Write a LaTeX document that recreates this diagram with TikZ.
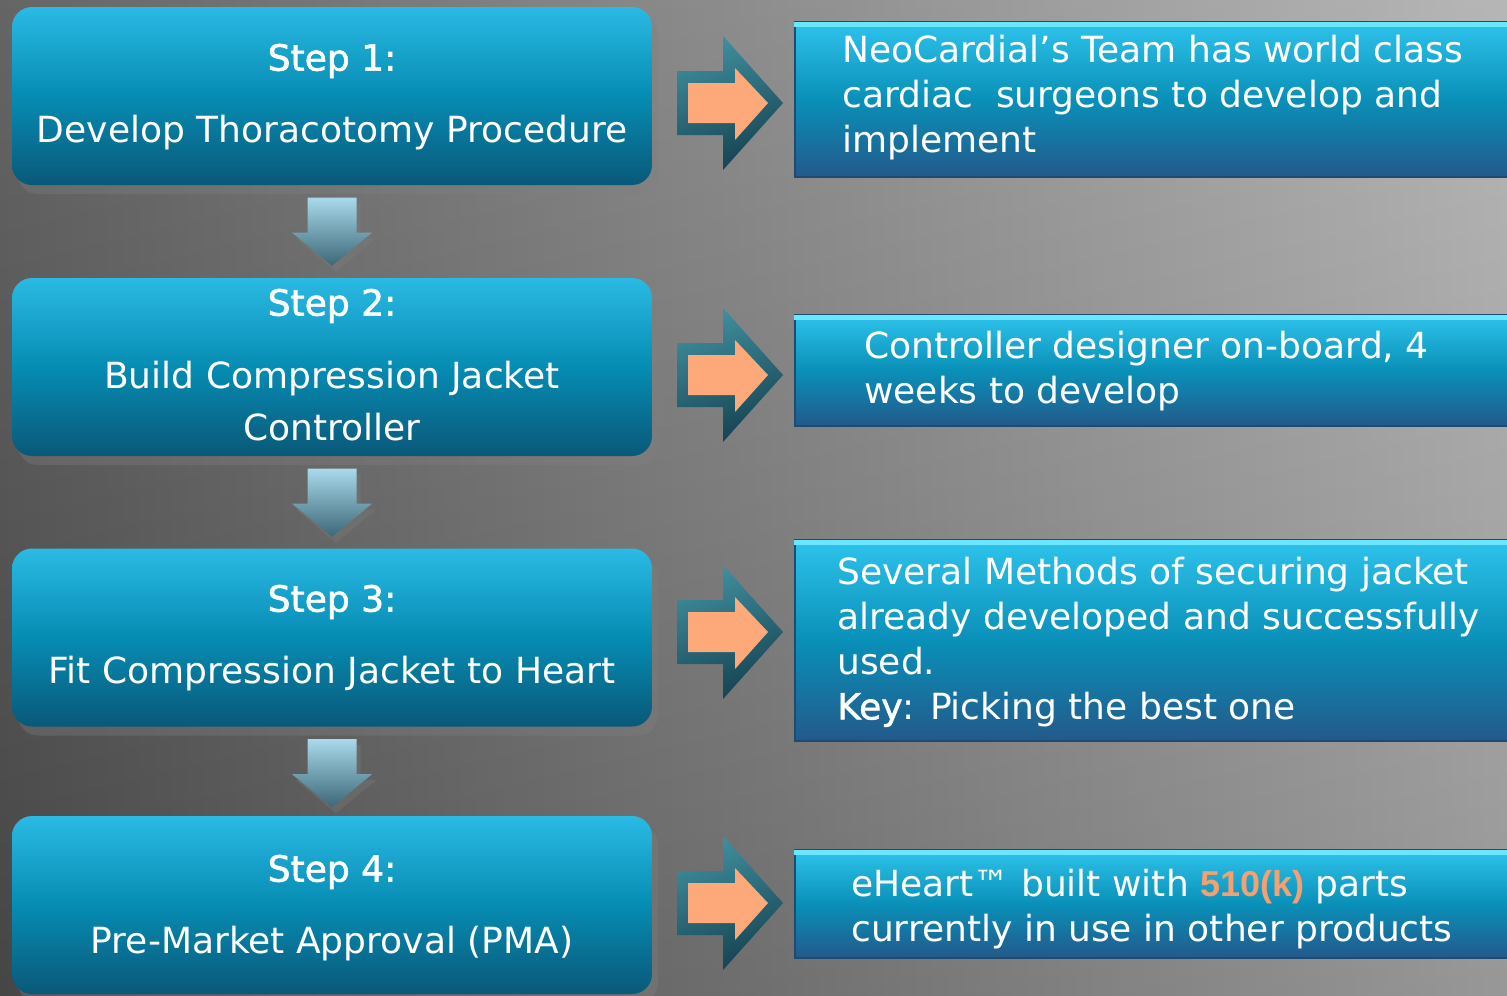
\documentclass[tikz,border=0pt]{standalone}
\usepackage{fontspec}
\setmainfont{DejaVu Sans}
\newfontfamily\semibold[FakeBold=1.6]{DejaVu Sans}
\newfontfamily\numfont{Liberation Sans}
\usetikzlibrary{calc,shadows}
\definecolor{bgleft}{HTML}{505050}
\definecolor{bgright}{HTML}{ADADAD}
\definecolor{lboxtop}{HTML}{2ABAE4}
\definecolor{lboxmid}{HTML}{068CB3}
\definecolor{lboxbot}{HTML}{0A5878}
\definecolor{rboxtop}{HTML}{2EC3EB}
\definecolor{rboxmid}{HTML}{0990B8}
\definecolor{rboxbot}{HTML}{23598A}
\definecolor{rboxedge}{HTML}{1F4A72}
\definecolor{rboxhi}{HTML}{6BE6FF}
\definecolor{arrowhi}{HTML}{A9D9EB}
\definecolor{arrowlo}{HTML}{3C6777}
\definecolor{tealhi}{HTML}{3F8E9E}
\definecolor{teallo}{HTML}{164251}
\definecolor{peach}{HTML}{FDA97A}
\definecolor{keyorange}{HTML}{F4A070}
\newcommand\boxfont{\fontsize{10.25}{12.8}\selectfont}
\begin{document}
\begin{tikzpicture}[
                stepbox/.style={rounded corners=2mm,minimum width=6.40cm,minimum height=1.78cm,inner sep=0pt,
                    top color=lboxtop,bottom color=lboxbot,middle color=lboxmid,
                    drop shadow={shadow xshift=0.6mm,shadow yshift=-0.9mm,opacity=0.35}},
                infobox/.style={minimum width=7.15cm,inner sep=0pt,draw=rboxedge,line width=0.8pt,
                    top color=rboxtop,bottom color=rboxbot,middle color=rboxmid},
                steptitle/.style={text=white,font=\boxfont\semibold,inner sep=0pt},
                steptext/.style={text=white,font=\fontsize{10.25}{14.8}\selectfont,align=center,inner sep=0pt},
                infotext/.style={text=white,font=\boxfont,align=left,anchor=west,inner sep=0pt},
                downarrow/.style={top color=arrowhi,bottom color=arrowlo,
                    drop shadow={shadow xshift=0.4mm,shadow yshift=-0.6mm,opacity=0.3}},
                rarrowedge/.style={top color=tealhi,bottom color=teallo,shading angle=20},
                rarrowface/.style={fill=peach}
            ]
                \useasboundingbox (0,0) rectangle (15.07,-9.95);
                \shade[left color=bgleft,right color=bgright] (0,0) rectangle (15.07,-9.95);
                \shade[top color=white,bottom color=black,opacity=0.12] (0,0) rectangle (15.07,-9.95);

                \node [stepbox] (s1) at (3.32,-0.96) {};
                \node [stepbox] (s2) at (3.32,-3.67) {};
                \node [stepbox] (s3) at (3.32,-6.375) {};
                \node [stepbox] (s4) at (3.32,-9.05) {};

                \node [steptitle] (t1) at ([yshift=3.5mm]s1.center) {Step 1:};
                \node [steptext] (b1) at ([yshift=-3.7mm]s1.center) {Develop Thoracotomy Procedure};
                \node [steptitle] (t2) at ([yshift=6.1mm]s2.center) {Step 2:};
                \node [steptext] (b2) at ([yshift=-3.4mm]s2.center) {Build Compression Jacket\\Controller};
                \node [steptitle] (t3) at ([yshift=3.55mm]s3.center) {Step 3:};
                \node [steptext] (b3) at ([yshift=-3.65mm]s3.center) {Fit Compression Jacket to Heart};
                \node [steptitle] (t4) at ([yshift=3.3mm]s4.center) {Step 4:};
                \node [steptext] (b4) at ([yshift=-3.9mm]s4.center) {Pre-Market Approval (PMA)};

                \foreach \a/\b in {1/2,2/3,3/4} {
                    \shade [downarrow] ($(s\a.south)+(0,-0.12)$) -- ++(0.245,0) -- ++(0,-0.35) -- ++(0.155,0)
                        -- ++(-0.40,-0.33) -- ++(-0.40,0.33) -- ++(0.155,0) -- ++(0,0.35) -- cycle;
                }

                \node [infobox,minimum height=1.55cm] (r1) at (11.525,-0.995) {};
                \node [infobox,minimum height=1.11cm] (r2) at (11.525,-3.705) {};
                \node [infobox,minimum height=2.01cm] (r3) at (11.525,-6.405) {};
                \node [infobox,minimum height=1.08cm] (r4) at (11.525,-9.04) {};
                \foreach \r in {r1,r2,r3,r4} {
                    \draw [rboxhi,line width=1.4pt] ([yshift=-1.2pt]\r.north west) -- ([yshift=-1.2pt]\r.north east);
                }

                \node [infotext] (i1) at ([xshift=4.8mm,yshift=0.15mm]r1.west) {NeoCardial’s Team has world class\\cardiac\ \ surgeons to develop and\\implement};
                \node [infotext] (i2) at ([xshift=7.0mm,yshift=-0.1mm]r2.west) {Controller designer on-board, 4\\weeks to develop};
                \node [infotext] (i3) at ([xshift=4.3mm,yshift=-0.15mm]r3.west) {Several Methods of securing jacket\\already developed and successfully\\used.\\{\semibold Key}: Picking the best one};
                \node [infotext] (i4) at ([xshift=5.7mm,yshift=-0.5mm]r4.west) {eHeart™ built with {\numfont\bfseries\color{keyorange}510(k)} parts\\currently in use in other products};

                \foreach \y in {-1.03,-3.75,-6.32,-9.03} {
                    \shade [rarrowedge,yshift=\y cm] (6.77,0.32) -- (7.23,0.32) -- (7.23,0.67) -- (7.83,0)
                        -- (7.23,-0.67) -- (7.23,-0.32) -- (6.77,-0.32) -- cycle;
                    \fill [rarrowface,yshift=\y cm] (6.88,0.20) -- (7.35,0.20) -- (7.35,0.35) -- (7.68,0)
                        -- (7.35,-0.37) -- (7.35,-0.20) -- (6.88,-0.20) -- cycle;
                }
            \end{tikzpicture}
\end{document}
